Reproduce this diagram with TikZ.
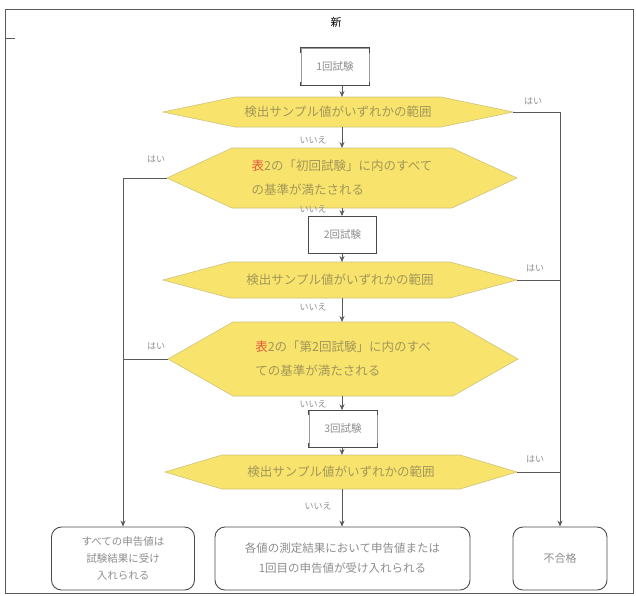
\documentclass[tikz,border=0pt]{standalone}
\usepackage{fontspec}
\setmainfont{Noto Sans CJK JP}
\usetikzlibrary{arrows.meta,calc}
\definecolor{hexyellow}{HTML}{F8E46C}
\definecolor{hexedge}{HTML}{CFC27A}
\definecolor{hextxt}{HTML}{A39659}
\definecolor{boxtxt}{HTML}{8E8E8E}
\definecolor{boxedge}{HTML}{4A4A4A}
\definecolor{boxside}{HTML}{9A9A9A}
\definecolor{linegray}{HTML}{5A5A5A}
\definecolor{lbltxt}{HTML}{909090}
\definecolor{redch}{HTML}{E2583A}
\newcommand\myhex[7]{%
  \fill[hexyellow] (#2-#4,#3) -- (#2-#4+#6,#3-#5) -- (#2+#4-#6,#3-#5) -- (#2+#4,#3)
     -- (#2+#4-#6,#3+#5) -- (#2-#4+#6,#3+#5) -- cycle;
  \draw[hexedge,line width=0.6pt] (#2-#4,#3) -- (#2-#4+#6,#3-#5) -- (#2+#4-#6,#3-#5) -- (#2+#4,#3)
     -- (#2+#4-#6,#3+#5) -- (#2-#4+#6,#3+#5) -- cycle;
  \node[hextext] (#1) at (#2,#3) {#7};
  \coordinate (#1l) at (#2-#4,#3);
  \coordinate (#1r) at (#2+#4,#3);
  \coordinate (#1t) at (342,#3-#5);
  \coordinate (#1b) at (342,#3+#5);
}
\tikzset{
  hextext/.style={text=hextxt, font=\fontsize{12.5}{24}\selectfont, align=left, inner sep=0pt},
  stepbox/.style={draw=boxedge, line width=0.9pt, fill=white, minimum width=68pt,
    minimum height=37pt, inner sep=0pt, text=boxtxt, font=\fontsize{10.5}{12}\selectfont},
  bracketbox/.style={draw=boxside, line width=0.6pt, fill=white, minimum width=68pt,
    minimum height=37pt, inner sep=0pt, text=boxtxt, font=\fontsize{10.5}{12}\selectfont},
  bracket/.style={draw=boxedge, line width=1.4pt},
  endbox/.style={draw=boxedge, line width=0.9pt, rounded corners=10pt, inner sep=0pt,
    text=boxtxt, align=center},
  flow/.style={draw=linegray, line width=0.7pt, -{Stealth[length=6pt,width=5pt]}},
  plain/.style={draw=linegray, line width=0.7pt},
  lbl/.style={text=lbltxt, font=\fontsize{9}{10}\selectfont, inner sep=0pt},
}
\begin{document}
\begin{tikzpicture}[x=1pt,y=-1pt]
\useasboundingbox (0,0) rectangle (636,595);
\fill[white] (0,0) rectangle (636,595);
\draw[linegray,line width=0.9pt] (5,9) rectangle (633,593);
\draw[linegray,line width=0.9pt] (5,38) -- (15,38);
\node[font=\fontsize{11}{12}\selectfont] (title) at (336,22) {新};

% step boxes
\node[bracketbox] (b1) at (335,66.5) {1回試験};
\draw[bracket] ([yshift=-5pt]b1.north west) -- (b1.north west) -- (b1.north east) -- ([yshift=-5pt]b1.north east);
\draw[bracket,line width=1pt] ([yshift=3pt]b1.south west) -- (b1.south west) -- (b1.south east) -- ([yshift=3pt]b1.south east);
\node[stepbox] (b2) at (342.5,235) {2回試験};
\node[bracketbox] (b3) at (343,429) {3回試験};
\draw[bracket,line width=1pt] ([yshift=-5pt]b3.north west) -- (b3.north west) -- (b3.north east) -- ([yshift=-5pt]b3.north east);
\draw[bracket,line width=1pt] ([yshift=5pt]b3.south west) -- (b3.south west) -- (b3.south east) -- ([yshift=5pt]b3.south east);

% decisions
\myhex{d1}{338}{112}{175}{15}{72}{検出サンプル値がいずれかの範囲}
\myhex{d2}{342}{178}{175}{30}{65}{{\color{redch}表}2の「初回試験」に内のすべて\\の基準が満たされる}
\myhex{d3}{340}{280}{177}{18}{67}{検出サンプル値がいずれかの範囲}
\myhex{d4}{343}{359}{175}{37}{65}{{\color{redch}表}2の「第2回試験」に内のすべ\\ての基準が満たされる}
\myhex{d5}{341}{472}{176}{17}{57}{検出サンプル値がいずれかの範囲}

% end boxes
\node[endbox, minimum width=143pt, minimum height=63pt, font=\fontsize{10.5}{17}\selectfont] (eleft) at (123,558.5)
  {すべての申告値は\\試験結果に受け\\入れられる};
\node[endbox, minimum width=255pt, minimum height=63pt, font=\fontsize{11.5}{20}\selectfont] (emid) at (342.5,558.5)
  {各値の測定結果において申告値または\\1回目の申告値が受け入れられる};
\node[endbox, minimum width=94pt, minimum height=63pt, font=\fontsize{11}{12}\selectfont] (efail) at (560,558.5) {不合格};

% main flow
\draw[flow] (b1.south -| d1t) -- (d1t);
\draw[flow] (d1b) -- (d2t);
\draw[flow] (d2b) -- (b2.north -| d2b);
\draw[flow] (b2.south -| d3t) -- (d3t);
\draw[flow] (d3b) -- (d4t);
\draw[flow] (d4b) -- (b3.north -| d4b);
\draw[flow] (b3.south -| d5t) -- (d5t);
\draw[flow] (d5b) -- (emid.north -| d5b);

% yes branches
\draw[flow] (d1r) -- (d1r -| efail.north) -- (efail.north);
\draw[plain] (d3r) -- (d3r -| efail.north);
\draw[plain] (d5r) -- (d5r -| efail.north);
\draw[flow] (d2l) -- (d2l -| eleft.north) -- (eleft.north);
\draw[plain] (d4l) -- (d4l -| eleft.north);

% labels
\node[lbl] (n1) at (313,140) {いいえ};
\node[lbl] (n2) at (313,209) {いいえ};
\node[lbl] (n3) at (313,307) {いいえ};
\node[lbl] (n4) at (313,404) {いいえ};
\node[lbl] (n5) at (318,506) {いいえ};
\node[lbl] (y1) at (533,101) {はい};
\node[lbl] (y2) at (156,159) {はい};
\node[lbl] (y3) at (535,268) {はい};
\node[lbl] (y4) at (156,346) {はい};
\node[lbl] (y5) at (535,459) {はい};
\end{tikzpicture}
\end{document}
